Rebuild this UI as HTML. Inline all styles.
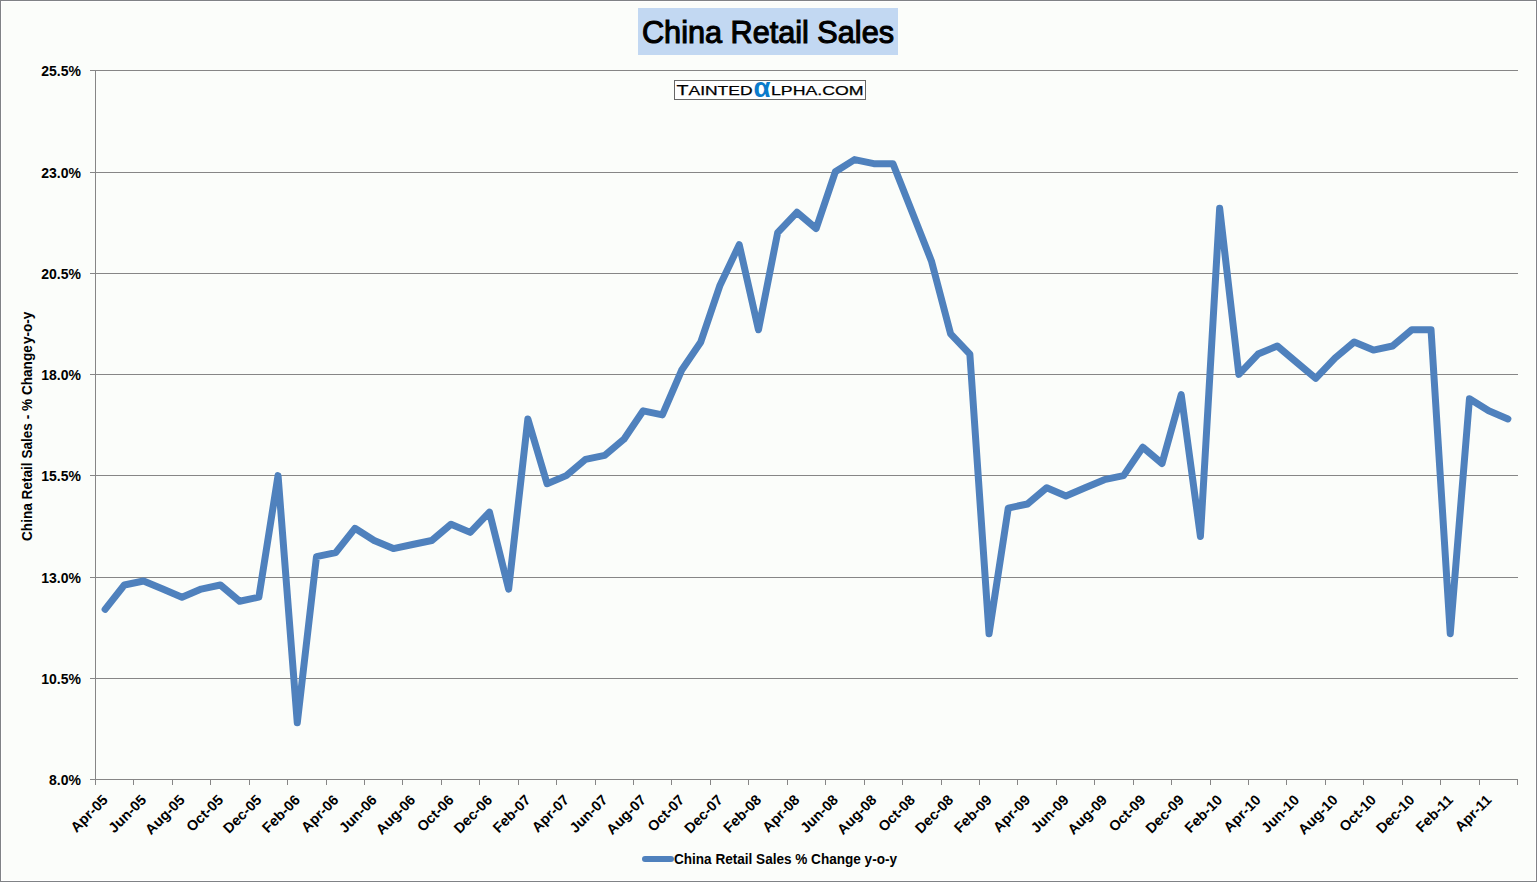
<!DOCTYPE html>
<html><head><meta charset="utf-8"><style>
html,body{margin:0;padding:0;background:#FBFDFA;}
svg{display:block;}
text{font-family:"Liberation Sans",sans-serif;font-weight:bold;fill:#000;}
.yl{font-size:14px;}
.xl{font-size:14.4px;}
.yt{font-size:14px;}
.tt{font-size:31px;}
.lg{font-size:11px;font-weight:normal;stroke:#000;stroke-width:0.25px;}
.lgd{font-size:14px;}
</style></head><body>
<svg width="1537" height="882" viewBox="0 0 1537 882">
<rect x="0" y="0" width="1537" height="882" fill="#FBFDFA"/>
<rect x="0.5" y="0.5" width="1536" height="881" fill="none" stroke="#808286" stroke-width="1"/>
<rect x="1.5" y="1.5" width="1534" height="879" fill="none" stroke="#FFFFFF" stroke-width="1"/>
<line x1="90" y1="70.5" x2="1518" y2="70.5" stroke="#868686" stroke-width="1"/>
<text class="yl" x="81" y="75.5" text-anchor="end">25.5%</text>
<line x1="90" y1="172.5" x2="1518" y2="172.5" stroke="#868686" stroke-width="1"/>
<text class="yl" x="81" y="177.5" text-anchor="end">23.0%</text>
<line x1="90" y1="273.5" x2="1518" y2="273.5" stroke="#868686" stroke-width="1"/>
<text class="yl" x="81" y="278.5" text-anchor="end">20.5%</text>
<line x1="90" y1="374.5" x2="1518" y2="374.5" stroke="#868686" stroke-width="1"/>
<text class="yl" x="81" y="379.5" text-anchor="end">18.0%</text>
<line x1="90" y1="475.5" x2="1518" y2="475.5" stroke="#868686" stroke-width="1"/>
<text class="yl" x="81" y="480.5" text-anchor="end">15.5%</text>
<line x1="90" y1="577.5" x2="1518" y2="577.5" stroke="#868686" stroke-width="1"/>
<text class="yl" x="81" y="582.5" text-anchor="end">13.0%</text>
<line x1="90" y1="678.5" x2="1518" y2="678.5" stroke="#868686" stroke-width="1"/>
<text class="yl" x="81" y="683.5" text-anchor="end">10.5%</text>
<line x1="90" y1="779.5" x2="1518" y2="779.5" stroke="#868686" stroke-width="1"/>
<text class="yl" x="81" y="784.5" text-anchor="end">8.0%</text>
<line x1="95.5" y1="70" x2="95.5" y2="785" stroke="#868686" stroke-width="1"/>
<line x1="95.5" y1="779" x2="95.5" y2="785" stroke="#868686" stroke-width="1"/>
<line x1="133.5" y1="779" x2="133.5" y2="785" stroke="#868686" stroke-width="1"/>
<line x1="172.5" y1="779" x2="172.5" y2="785" stroke="#868686" stroke-width="1"/>
<line x1="210.5" y1="779" x2="210.5" y2="785" stroke="#868686" stroke-width="1"/>
<line x1="249.5" y1="779" x2="249.5" y2="785" stroke="#868686" stroke-width="1"/>
<line x1="287.5" y1="779" x2="287.5" y2="785" stroke="#868686" stroke-width="1"/>
<line x1="326.5" y1="779" x2="326.5" y2="785" stroke="#868686" stroke-width="1"/>
<line x1="364.5" y1="779" x2="364.5" y2="785" stroke="#868686" stroke-width="1"/>
<line x1="402.5" y1="779" x2="402.5" y2="785" stroke="#868686" stroke-width="1"/>
<line x1="441.5" y1="779" x2="441.5" y2="785" stroke="#868686" stroke-width="1"/>
<line x1="479.5" y1="779" x2="479.5" y2="785" stroke="#868686" stroke-width="1"/>
<line x1="518.5" y1="779" x2="518.5" y2="785" stroke="#868686" stroke-width="1"/>
<line x1="556.5" y1="779" x2="556.5" y2="785" stroke="#868686" stroke-width="1"/>
<line x1="595.5" y1="779" x2="595.5" y2="785" stroke="#868686" stroke-width="1"/>
<line x1="633.5" y1="779" x2="633.5" y2="785" stroke="#868686" stroke-width="1"/>
<line x1="671.5" y1="779" x2="671.5" y2="785" stroke="#868686" stroke-width="1"/>
<line x1="710.5" y1="779" x2="710.5" y2="785" stroke="#868686" stroke-width="1"/>
<line x1="748.5" y1="779" x2="748.5" y2="785" stroke="#868686" stroke-width="1"/>
<line x1="787.5" y1="779" x2="787.5" y2="785" stroke="#868686" stroke-width="1"/>
<line x1="825.5" y1="779" x2="825.5" y2="785" stroke="#868686" stroke-width="1"/>
<line x1="864.5" y1="779" x2="864.5" y2="785" stroke="#868686" stroke-width="1"/>
<line x1="902.5" y1="779" x2="902.5" y2="785" stroke="#868686" stroke-width="1"/>
<line x1="941.5" y1="779" x2="941.5" y2="785" stroke="#868686" stroke-width="1"/>
<line x1="979.5" y1="779" x2="979.5" y2="785" stroke="#868686" stroke-width="1"/>
<line x1="1017.5" y1="779" x2="1017.5" y2="785" stroke="#868686" stroke-width="1"/>
<line x1="1056.5" y1="779" x2="1056.5" y2="785" stroke="#868686" stroke-width="1"/>
<line x1="1094.5" y1="779" x2="1094.5" y2="785" stroke="#868686" stroke-width="1"/>
<line x1="1133.5" y1="779" x2="1133.5" y2="785" stroke="#868686" stroke-width="1"/>
<line x1="1171.5" y1="779" x2="1171.5" y2="785" stroke="#868686" stroke-width="1"/>
<line x1="1210.5" y1="779" x2="1210.5" y2="785" stroke="#868686" stroke-width="1"/>
<line x1="1248.5" y1="779" x2="1248.5" y2="785" stroke="#868686" stroke-width="1"/>
<line x1="1286.5" y1="779" x2="1286.5" y2="785" stroke="#868686" stroke-width="1"/>
<line x1="1325.5" y1="779" x2="1325.5" y2="785" stroke="#868686" stroke-width="1"/>
<line x1="1363.5" y1="779" x2="1363.5" y2="785" stroke="#868686" stroke-width="1"/>
<line x1="1402.5" y1="779" x2="1402.5" y2="785" stroke="#868686" stroke-width="1"/>
<line x1="1440.5" y1="779" x2="1440.5" y2="785" stroke="#868686" stroke-width="1"/>
<line x1="1479.5" y1="779" x2="1479.5" y2="785" stroke="#868686" stroke-width="1"/>
<line x1="1517.5" y1="779" x2="1517.5" y2="785" stroke="#868686" stroke-width="1"/>
<text class="xl" transform="translate(105.21,797.4) rotate(-45)" x="0" y="5" text-anchor="end">Apr-05</text>
<text class="xl" transform="translate(143.64,797.4) rotate(-45)" x="0" y="5" text-anchor="end">Jun-05</text>
<text class="xl" transform="translate(182.07,797.4) rotate(-45)" x="0" y="5" text-anchor="end">Aug-05</text>
<text class="xl" transform="translate(220.51,797.4) rotate(-45)" x="0" y="5" text-anchor="end">Oct-05</text>
<text class="xl" transform="translate(258.94,797.4) rotate(-45)" x="0" y="5" text-anchor="end">Dec-05</text>
<text class="xl" transform="translate(297.37,797.4) rotate(-45)" x="0" y="5" text-anchor="end">Feb-06</text>
<text class="xl" transform="translate(335.80,797.4) rotate(-45)" x="0" y="5" text-anchor="end">Apr-06</text>
<text class="xl" transform="translate(374.24,797.4) rotate(-45)" x="0" y="5" text-anchor="end">Jun-06</text>
<text class="xl" transform="translate(412.67,797.4) rotate(-45)" x="0" y="5" text-anchor="end">Aug-06</text>
<text class="xl" transform="translate(451.10,797.4) rotate(-45)" x="0" y="5" text-anchor="end">Oct-06</text>
<text class="xl" transform="translate(489.53,797.4) rotate(-45)" x="0" y="5" text-anchor="end">Dec-06</text>
<text class="xl" transform="translate(527.96,797.4) rotate(-45)" x="0" y="5" text-anchor="end">Feb-07</text>
<text class="xl" transform="translate(566.40,797.4) rotate(-45)" x="0" y="5" text-anchor="end">Apr-07</text>
<text class="xl" transform="translate(604.83,797.4) rotate(-45)" x="0" y="5" text-anchor="end">Jun-07</text>
<text class="xl" transform="translate(643.26,797.4) rotate(-45)" x="0" y="5" text-anchor="end">Aug-07</text>
<text class="xl" transform="translate(681.69,797.4) rotate(-45)" x="0" y="5" text-anchor="end">Oct-07</text>
<text class="xl" transform="translate(720.13,797.4) rotate(-45)" x="0" y="5" text-anchor="end">Dec-07</text>
<text class="xl" transform="translate(758.56,797.4) rotate(-45)" x="0" y="5" text-anchor="end">Feb-08</text>
<text class="xl" transform="translate(796.99,797.4) rotate(-45)" x="0" y="5" text-anchor="end">Apr-08</text>
<text class="xl" transform="translate(835.42,797.4) rotate(-45)" x="0" y="5" text-anchor="end">Jun-08</text>
<text class="xl" transform="translate(873.86,797.4) rotate(-45)" x="0" y="5" text-anchor="end">Aug-08</text>
<text class="xl" transform="translate(912.29,797.4) rotate(-45)" x="0" y="5" text-anchor="end">Oct-08</text>
<text class="xl" transform="translate(950.72,797.4) rotate(-45)" x="0" y="5" text-anchor="end">Dec-08</text>
<text class="xl" transform="translate(989.15,797.4) rotate(-45)" x="0" y="5" text-anchor="end">Feb-09</text>
<text class="xl" transform="translate(1027.59,797.4) rotate(-45)" x="0" y="5" text-anchor="end">Apr-09</text>
<text class="xl" transform="translate(1066.02,797.4) rotate(-45)" x="0" y="5" text-anchor="end">Jun-09</text>
<text class="xl" transform="translate(1104.45,797.4) rotate(-45)" x="0" y="5" text-anchor="end">Aug-09</text>
<text class="xl" transform="translate(1142.88,797.4) rotate(-45)" x="0" y="5" text-anchor="end">Oct-09</text>
<text class="xl" transform="translate(1181.32,797.4) rotate(-45)" x="0" y="5" text-anchor="end">Dec-09</text>
<text class="xl" transform="translate(1219.75,797.4) rotate(-45)" x="0" y="5" text-anchor="end">Feb-10</text>
<text class="xl" transform="translate(1258.18,797.4) rotate(-45)" x="0" y="5" text-anchor="end">Apr-10</text>
<text class="xl" transform="translate(1296.61,797.4) rotate(-45)" x="0" y="5" text-anchor="end">Jun-10</text>
<text class="xl" transform="translate(1335.05,797.4) rotate(-45)" x="0" y="5" text-anchor="end">Aug-10</text>
<text class="xl" transform="translate(1373.48,797.4) rotate(-45)" x="0" y="5" text-anchor="end">Oct-10</text>
<text class="xl" transform="translate(1411.91,797.4) rotate(-45)" x="0" y="5" text-anchor="end">Dec-10</text>
<text class="xl" transform="translate(1450.34,797.4) rotate(-45)" x="0" y="5" text-anchor="end">Feb-11</text>
<text class="xl" transform="translate(1488.78,797.4) rotate(-45)" x="0" y="5" text-anchor="end">Apr-11</text>
<polyline points="105.11,609.34 124.32,585.03 143.54,580.98 162.76,589.08 181.97,597.19 201.19,589.08 220.41,585.03 239.62,601.24 258.84,597.19 278.05,475.64 297.27,722.78 316.49,556.67 335.70,552.62 354.92,528.31 374.14,540.47 393.35,548.57 412.57,544.52 431.78,540.47 451.00,524.26 470.22,532.36 489.43,512.11 508.65,589.08 527.86,418.92 547.08,483.75 566.30,475.64 585.51,459.44 604.73,455.39 623.95,439.18 643.16,410.82 662.38,414.87 681.59,370.31 700.81,341.95 720.03,285.23 739.24,244.71 758.46,329.79 777.68,232.56 796.89,212.30 816.11,228.51 835.32,171.79 854.54,159.63 873.76,163.68 892.97,163.68 912.19,212.30 931.41,260.92 950.62,333.84 969.84,354.10 989.05,633.65 1008.27,508.05 1027.49,504.00 1046.70,487.80 1065.92,495.90 1085.14,487.80 1104.35,479.69 1123.57,475.64 1142.78,447.28 1162.00,463.49 1181.22,394.61 1200.43,536.41 1219.65,208.25 1238.86,374.36 1258.08,354.10 1277.30,346.00 1296.51,362.20 1315.73,378.41 1334.95,358.15 1354.16,341.95 1373.38,350.05 1392.59,346.00 1411.81,329.79 1431.03,329.79 1450.24,633.65 1469.46,398.67 1488.68,410.82 1507.89,418.92" fill="none" stroke="#4F81BD" stroke-width="7" stroke-linejoin="round" stroke-linecap="round"/>
<text class="yt" transform="translate(32,426.3) rotate(-90)" x="-114.7" y="0" textLength="229.4" lengthAdjust="spacingAndGlyphs">China Retail Sales - % Change&#8202;y-o-y</text>
<rect x="638" y="8" width="260" height="47" fill="#C2D8F2"/>
<text class="tt" x="642" y="43" textLength="252" lengthAdjust="spacingAndGlyphs" style="font-weight:normal;stroke:#000;stroke-width:1.1px">China Retail Sales</text>
<rect x="674.5" y="80.5" width="191" height="19" fill="#FFFFFF" stroke="#666666" stroke-width="1"/>
<text class="lg" style="font-size:15.4px" x="676.5" y="95" textLength="12" lengthAdjust="spacingAndGlyphs">T</text>
<text class="lg" style="font-size:12.3px" x="688.5" y="95" textLength="64" lengthAdjust="spacingAndGlyphs">AINTED</text>
<text class="lg" style="font-size:28px;fill:#0A7BCB;stroke:none;font-weight:bold" x="753.5" y="97" textLength="17" lengthAdjust="spacingAndGlyphs">α</text>
<text class="lg" style="font-size:12.3px" x="771" y="95" textLength="92.5" lengthAdjust="spacingAndGlyphs">LPHA.COM</text>
<line x1="645" y1="859" x2="671" y2="859" stroke="#4F81BD" stroke-width="6" stroke-linecap="round"/>
<text class="lgd" x="674" y="864" textLength="223" lengthAdjust="spacingAndGlyphs">China Retail Sales % Change y-o-y</text>
</svg>
</body></html>
